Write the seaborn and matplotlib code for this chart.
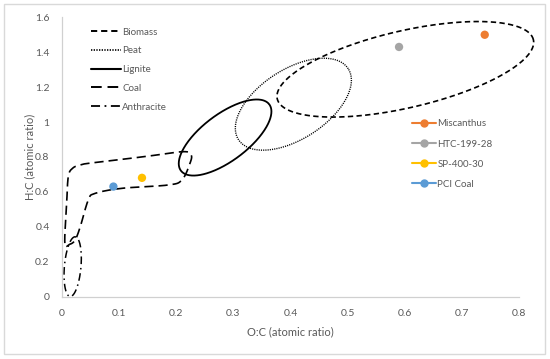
import numpy as np
import pandas as pd
import matplotlib
matplotlib.use("Agg")
import matplotlib.pyplot as plt
from matplotlib.lines import Line2D
from matplotlib.patches import Rectangle
import seaborn as sns

# ---------------- data ----------------
samples = ["Miscanthus", "HTC-199-28", "SP-400-30", "PCI Coal"]
oc_ratio = [0.74, 0.59, 0.14, 0.09]
hc_ratio = [1.50, 1.43, 0.68, 0.63]
sample_colors = ["#ED7D31", "#A5A5A5", "#FFC000", "#5B9BD5"]

regions = ["Biomass", "Peat", "Lignite", "Coal", "Anthracite"]
# ellipse regions: centre (O:C, H:C), semi-axes (in O:C units), tilt (deg, on screen)
ell_names = ["Biomass", "Peat", "Lignite", "Anthracite"]
ell_cx = [0.601, 0.405, 0.2855, 0.0187]
ell_cy = [1.302, 1.102, 0.911, 0.171]
ell_a = [0.2301, 0.1144, 0.0967, 0.0525]
ell_b = [0.0674, 0.0609, 0.0408, 0.0145]
ell_ang = [13.0, 32.9, 36.9, 85.0]

# coal region outline (closed freeform)
coal_x = [0.005, 0.008, 0.011, 0.019, 0.032, 0.046, 0.10, 0.15, 0.212, 0.226,
          0.224, 0.210, 0.186, 0.105, 0.058, 0.046, 0.032, 0.023, 0.014]
coal_y = [0.306, 0.515, 0.687, 0.736, 0.754, 0.763, 0.784, 0.804, 0.830, 0.811,
          0.763, 0.668, 0.639, 0.620, 0.591, 0.553, 0.400, 0.324, 0.300]

x_ticks = [0, 0.1, 0.2, 0.3, 0.4, 0.5, 0.6, 0.7, 0.8]
y_ticks = [0, 0.2, 0.4, 0.6, 0.8, 1.0, 1.2, 1.4, 1.6]
x_tick_labels = ["0", "0.1", "0.2", "0.3", "0.4", "0.5", "0.6", "0.7", "0.8"]
y_tick_labels = ["0", "0.2", "0.4", "0.6", "0.8", "1", "1.2", "1.4", "1.6"]

# ---------------- styles ----------------
styles = {
    "Biomass": dict(color="black", lw=1.2, dashes=(3.2, 2.0)),
    "Peat": dict(color="black", lw=1.0, dashes=(0.8, 0.8)),
    "Lignite": dict(color="black", lw=1.3, dashes=None),
    "Coal": dict(color="black", lw=1.2, dashes=(5.5, 3.0)),
    "Anthracite": dict(color="black", lw=1.1, dashes=(5.0, 2.5, 1.0, 2.5)),
}

sns.set_theme(style="white")
plt.rcParams["font.family"] = ["Lato", "DejaVu Sans"]
TXT = "#595959"

W, H = 5.5, 3.59
fig = plt.figure(figsize=(W, H), dpi=100)
L, R, B, T = 62 / 550, 519 / 550, (359 - 296.5) / 359, (359 - 17.3) / 359
ax = fig.add_axes([L, B, R - L, T - B])
ax.set_xlim(0, 0.8)
ax.set_ylim(0, 1.6)

# screen aspect: data-y per data-x for equal pixel length
px_per_x = (R - L) * W * 100 / 0.8
px_per_y = (T - B) * H * 100 / 1.6
K = px_per_x / px_per_y


def draw(xs, ys, name):
    st = styles[name]
    ln, = ax.plot(xs, ys, color=st["color"], lw=st["lw"], solid_capstyle="butt",
                  dash_capstyle="butt", clip_on=False, zorder=2)
    if st["dashes"] is not None:
        ln.set_dashes(st["dashes"])


t = np.linspace(0, 2 * np.pi, 400)
for n, cx, cy, a, b, ang in zip(ell_names, ell_cx, ell_cy, ell_a, ell_b, ell_ang):
    th = np.deg2rad(ang)
    dx = a * np.cos(t) * np.cos(th) - b * np.sin(t) * np.sin(th)
    dy = (a * np.cos(t) * np.sin(th) + b * np.sin(t) * np.cos(th)) * K
    draw(cx + dx, cy + dy, n)

# periodic Catmull-Rom through coal outline (in screen-proportional space)
P = np.column_stack([np.array(coal_x), np.array(coal_y) / K])
n = len(P)
pts = []
for i in range(n):
    p0, p1, p2, p3 = P[(i - 1) % n], P[i], P[(i + 1) % n], P[(i + 2) % n]
    for s in np.linspace(0, 1, 20, endpoint=False):
        s2, s3 = s * s, s * s * s
        pts.append(0.5 * ((2 * p1) + (-p0 + p2) * s + (2 * p0 - 5 * p1 + 4 * p2 - p3) * s2
                          + (-p0 + 3 * p1 - 3 * p2 + p3) * s3))
pts.append(pts[0])
pts = np.array(pts)
draw(pts[:, 0], pts[:, 1] * K, "Coal")

# sample points
df = pd.DataFrame({"O:C": oc_ratio, "H:C": hc_ratio, "Sample": samples})
sns.scatterplot(data=df, x="O:C", y="H:C", hue="Sample", palette=sample_colors,
                s=36, edgecolor="none", legend=False, ax=ax, zorder=3, clip_on=False)

# axes cosmetics
ax.set_xticks(x_ticks)
ax.set_xticklabels(x_tick_labels)
ax.set_yticks(y_ticks)
ax.set_yticklabels(y_tick_labels)
ax.tick_params(axis="both", length=0, labelsize=7.5, colors=TXT)
ax.tick_params(axis="x", pad=9)
ax.tick_params(axis="y", pad=9)
for sp in ["top", "right"]:
    ax.spines[sp].set_visible(False)
for sp in ["left", "bottom"]:
    ax.spines[sp].set_color("#D0D0D0")
    ax.spines[sp].set_linewidth(0.9)
ax.set_xlabel("O:C (atomic ratio)", fontsize=8, color=TXT, labelpad=6)
ax.set_ylabel("H:C (atomic ratio)", fontsize=8, color=TXT, labelpad=0)
ax.grid(False)

# legends
h1 = []
for r in regions:
    st = styles[r]
    l = Line2D([], [], color="black", lw=st["lw"] + 0.2)
    if st["dashes"] is not None:
        l.set_dashes(st["dashes"])
    h1.append(l)
leg1 = ax.legend(h1, regions, loc="upper left", bbox_to_anchor=(0.063, 0.963),
                 frameon=False, fontsize=7, handlelength=3.1, handletextpad=0.15,
                 labelspacing=1.0, borderpad=0, borderaxespad=0, labelcolor=TXT)
ax.add_artist(leg1)

h2 = [Line2D([], [], color=c, lw=1.5, marker="o", markersize=5) for c in sample_colors]
ax.legend(h2, samples, loc="upper left", bbox_to_anchor=(0.765, 0.634),
          frameon=False, fontsize=7, handlelength=2.5, handletextpad=0.15,
          labelspacing=1.14, borderpad=0, borderaxespad=0, labelcolor=TXT)

# chart border
fig.patches.append(Rectangle((4 / 550, 1 - 354 / 359), 541 / 550, 350 / 359,
                             transform=fig.transFigure, fill=False,
                             edgecolor="#D9D9D9", lw=1.0))

fig.savefig("out.png", dpi=100)
